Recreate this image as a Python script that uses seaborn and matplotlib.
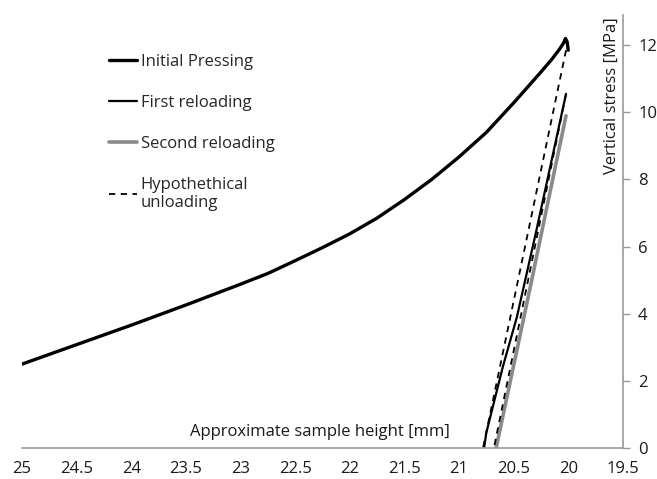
import numpy as np
import pandas as pd
import seaborn as sns
import matplotlib.pyplot as plt

# readings taken off the original figure (height in mm, stress in MPa)
init_h = [25.0, 24.5, 24.0, 23.5, 23.0, 22.75, 22.5, 22.25, 22.0, 21.75, 21.5, 21.25,
          21.0, 20.75, 20.5, 20.25, 20.15, 20.08, 20.04, 20.025, 20.01, 20.0]
init_s = [2.5, 3.08, 3.66, 4.26, 4.88, 5.2, 5.58, 5.97, 6.38, 6.85, 7.40, 8.0,
          8.67, 9.40, 10.28, 11.2, 11.58, 11.88, 12.08, 12.2, 12.1, 11.85]

first_h = [20.77, 20.75, 20.6, 20.47, 20.29, 20.15, 20.02]
first_s = [0.0, 0.45, 2.4, 3.9, 6.5, 8.6, 10.55]

second_h = [20.66, 20.5, 20.35, 20.2, 20.02]
second_s = [0.0, 2.45, 4.75, 7.1, 9.9]

unload1_h = [20.02, 20.78]
unload1_s = [11.85, 0.0]
unload2_h = [20.02, 20.68]
unload2_s = [10.55, 0.0]

xticks = [25, 24.5, 24, 23.5, 23, 22.5, 22, 21.5, 21, 20.5, 20, 19.5]
yticks = [0, 2, 4, 6, 8, 10, 12]

sns.set_style("white")
plt.rcParams['font.family'] = ['Open Sans', 'DejaVu Sans']

fig = plt.figure(figsize=(6.57, 4.79), dpi=100)
ax = fig.add_axes([0.0335, 0.0647, 0.9145, 0.904])

sns.lineplot(x=init_h, y=init_s, sort=False, color='black', lw=2.4, ax=ax, label='Initial Pressing')
sns.lineplot(x=first_h, y=first_s, sort=False, color='black', lw=1.6, ax=ax, label='First reloading')
sns.lineplot(x=second_h, y=second_s, sort=False, color='#8a8a8a', lw=2.6, ax=ax, label='Second reloading')
sns.lineplot(x=unload1_h, y=unload1_s, sort=False, color='black', lw=1.3, ls=(0, (3.5, 3)), ax=ax,
             label='Hypothethical\nunloading')
sns.lineplot(x=unload2_h, y=unload2_s, sort=False, color='black', lw=1.3, ls=(0, (3.5, 3)), ax=ax)

ax.set_xlim(25, 19.5)
ax.set_ylim(0, 12.9)
ax.set_xticks(xticks)
ax.set_xticklabels([f'{t:g}' for t in xticks])
ax.set_yticks(yticks)
ax.yaxis.tick_right()
ax.tick_params(axis='both', direction='out', length=5, width=1, color='#999999',
               labelsize=12, labelcolor='#1a1a1a')
ax.tick_params(axis='x', pad=4)
ax.tick_params(axis='y', pad=6)
ax.tick_params(axis='y', left=False, right=True)

for side in ['left', 'top']:
    ax.spines[side].set_visible(False)
for side in ['right', 'bottom']:
    ax.spines[side].set_color('#999999')
    ax.spines[side].set_linewidth(1.2)

ax.set_xlabel('')
ax.set_ylabel('')
ax.text(22.27, 0.25, 'Approximate sample height [mm]', fontsize=12, ha='center', va='bottom', color='#1a1a1a')
ax.text(19.6, 10.5, 'Vertical stress [MPa]', fontsize=12, rotation=90, ha='center', va='center',
        color='#1a1a1a')

ax.legend(loc='upper left', bbox_to_anchor=(0.12, 0.945), frameon=False, fontsize=12,
          handlelength=1.7, handletextpad=0.2, labelspacing=1.5)

plt.savefig('out.png', dpi=100)
